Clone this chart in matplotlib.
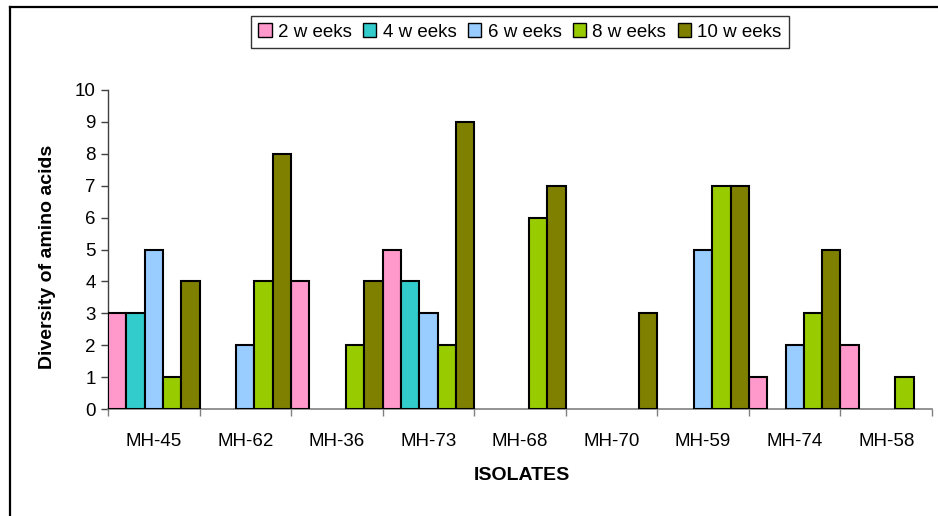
import matplotlib
matplotlib.use("Agg")
import matplotlib.pyplot as plt
import numpy as np
from matplotlib.lines import Line2D
from matplotlib.patches import Patch

plt.rcParams['font.family'] = ['Liberation Sans', 'DejaVu Sans']

isolates = ["MH-45", "MH-62", "MH-36", "MH-73", "MH-68", "MH-70", "MH-59", "MH-74", "MH-58"]
series_names = ["2 w eeks", "4 w eeks", "6 w eeks", "8 w eeks", "10 w eeks"]
weeks_2 = [3, 0, 4, 5, 0, 0, 0, 1, 2]
weeks_4 = [3, 0, 0, 4, 0, 0, 0, 0, 0]
weeks_6 = [5, 2, 0, 3, 0, 0, 5, 2, 0]
weeks_8 = [1, 4, 2, 2, 6, 0, 7, 3, 1]
weeks_10 = [4, 8, 4, 9, 7, 3, 7, 5, 0]
series = [weeks_2, weeks_4, weeks_6, weeks_8, weeks_10]
colors = ["#FF99CC", "#33CCCC", "#99CCFF", "#99CC00", "#808000"]

W, H = 938, 516
fig = plt.figure(figsize=(W / 100, H / 100), dpi=100)
ax = fig.add_axes([108 / W, 1 - 409 / H, (932 - 108) / W, (409 - 90) / H])

n = len(series)
width = 1.0 / n
x = np.arange(len(isolates))
for j, (vals, col) in enumerate(zip(series, colors)):
    vals = np.asarray(vals, dtype=float)
    lws = [1.5 if v > 0 else 0 for v in vals]
    ax.bar(x + width * (j + 0.5), vals, width, color=col,
           edgecolor="black", linewidth=lws, zorder=3)

ax.set_xlim(0, len(isolates))
ax.set_ylim(0, 10)
ax.set_yticks(range(0, 11))
ax.tick_params(axis="y", direction="out", length=5, width=1, color="#404040",
               labelsize=13.5, pad=4)

# category labels centred in each group, tick marks on the group boundaries
ax.set_xticks(x + 0.5)
ax.set_xticklabels(isolates)
ax.set_xticks(np.arange(len(isolates) + 1), minor=True)
ax.tick_params(axis="x", which="major", length=0, labelsize=13.5, pad=17)
ax.tick_params(axis="x", which="minor", direction="out", length=5, width=1,
               color="#808080")

for s in ["top", "right"]:
    ax.spines[s].set_visible(False)
ax.spines["left"].set_color("#404040")
ax.spines["bottom"].set_color("#808080")
ax.spines["left"].set_linewidth(1)
ax.spines["bottom"].set_linewidth(1.2)

fig.text(47 / W, 1 - 257 / H, "Diversity of amino acids", rotation=90,
         ha="center", va="center", fontsize=14, fontweight="bold")
fig.text(522 / W, 1 - 475 / H, "ISOLATES", ha="center", va="center",
         fontsize=14, fontweight="bold")

handles = [Patch(facecolor=c, edgecolor="black", linewidth=1) for c in colors]
leg = fig.legend(handles, series_names, ncol=5, loc="center",
                 bbox_to_anchor=(520 / W, 1 - 32 / H), fontsize=13.5,
                 frameon=True, fancybox=False, edgecolor="black",
                 handlelength=0.7, handleheight=0.7, handletextpad=0.35,
                 columnspacing=0.6, borderpad=0.4, borderaxespad=0)
leg.get_frame().set_linewidth(1)

# outer chart border (top and left edges)
fig.add_artist(Line2D([10 / W, 1.0], [1 - 7 / H, 1 - 7 / H], color="black",
                      linewidth=1.6, transform=fig.transFigure))
fig.add_artist(Line2D([10 / W, 10 / W], [0, 1 - 7 / H], color="black",
                      linewidth=1.6, transform=fig.transFigure))

fig.savefig("out.png", dpi=100)
